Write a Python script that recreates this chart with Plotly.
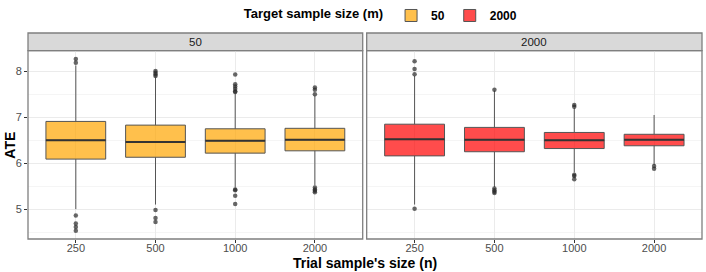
import plotly.graph_objects as go

# ---- data ----
categories = ["250", "500", "1000", "2000"]
panels = ["50", "2000"]

# target m = 50
q1_50 = [6.09, 6.13, 6.22, 6.27]
med_50 = [6.50, 6.46, 6.49, 6.51]
q3_50 = [6.91, 6.83, 6.75, 6.76]
lo_50 = [5.00, 5.10, 5.47, 5.52]
hi_50 = [8.13, 7.87, 7.52, 7.47]
out_x_50 = ["250", "250", "250", "250", "250", "250",
            "500", "500", "500", "500", "500", "500", "500",
            "1000", "1000", "1000", "1000", "1000", "1000", "1000", "1000", "1000", "1000",
            "2000", "2000", "2000", "2000", "2000", "2000", "2000"]
out_y_50 = [8.27, 8.19, 4.86, 4.69, 4.61, 4.53,
            8.01, 7.97, 7.93, 7.90, 4.98, 4.81, 4.72,
            7.93, 7.72, 7.67, 7.62, 7.57, 7.55, 5.43, 5.41, 5.29, 5.11,
            7.65, 7.60, 7.50, 5.47, 5.43, 5.40, 5.37]

# target m = 2000
q1_2000 = [6.16, 6.25, 6.32, 6.38]
med_2000 = [6.52, 6.51, 6.50, 6.51]
q3_2000 = [6.85, 6.78, 6.67, 6.63]
lo_2000 = [5.10, 5.48, 5.80, 5.96]
hi_2000 = [7.90, 7.58, 7.20, 7.05]
out_x_2000 = ["250", "250", "250", "250",
              "500", "500", "500", "500", "500",
              "1000", "1000", "1000", "1000", "1000",
              "2000", "2000"]
out_y_2000 = [8.22, 8.05, 7.94, 5.01,
              7.60, 5.45, 5.41, 5.38, 5.35,
              7.27, 7.23, 5.75, 5.72, 5.65,
              5.94, 5.88]

fills = {"50": "rgba(255,165,0,0.7)", "2000": "rgba(255,0,0,0.7)"}
box_line = "#555555"
font_fam = "Liberation Sans, Arial, sans-serif"

fig = go.Figure()

datasets = [
    ("50", "x", "y", q1_50, med_50, q3_50, lo_50, hi_50, out_x_50, out_y_50),
    ("2000", "x2", "y2", q1_2000, med_2000, q3_2000, lo_2000, hi_2000, out_x_2000, out_y_2000),
]

for name, xa, ya, q1, med, q3, lo, hi, ox, oy in datasets:
    fig.add_trace(go.Box(
        name="<b>" + name + "</b>", x=categories, q1=q1, median=med, q3=q3,
        lowerfence=lo, upperfence=hi,
        fillcolor=fills[name], line=dict(color=box_line, width=1),
        width=0.75, whiskerwidth=0, boxpoints=False, xaxis=xa, yaxis=ya,
        showlegend=True, hoverinfo="skip",
    ))
    # thicker median line
    fig.add_trace(go.Box(
        name=name, x=categories, q1=med, median=med, q3=med,
        lowerfence=med, upperfence=med,
        fillcolor="rgba(0,0,0,0)", line=dict(color="#333333", width=2),
        width=0.75, whiskerwidth=0, boxpoints=False, xaxis=xa, yaxis=ya,
        showlegend=False, hoverinfo="skip",
    ))
    fig.add_trace(go.Scatter(
        x=ox, y=oy, mode="markers", xaxis=xa, yaxis=ya,
        marker=dict(color="rgba(40,40,40,0.7)", size=4.5),
        showlegend=False, hoverinfo="skip",
    ))

d_top = 0.914
axis_common = dict(
    type="category", categoryorder="array", categoryarray=categories,
    range=[-0.6, 3.6], showgrid=True, gridcolor="#ebebeb", gridwidth=1,
    ticks="outside", ticklen=3, tickcolor="#333333", ticklabelstandoff=-4,
    tickfont=dict(size=11, color="#4d4d4d", family=font_fam),
    showline=False, zeroline=False, automargin=False,
)
y_common = dict(
    range=[4.35, 8.45], tickvals=[5, 6, 7, 8], showgrid=True,
    gridcolor="#ebebeb", gridwidth=1,
    minor=dict(tickvals=[4.5, 5.5, 6.5, 7.5], showgrid=True, gridcolor="#f5f5f5", gridwidth=0.8, ticks=""),
    ticklen=3, tickcolor="#333333",
    tickfont=dict(size=11, color="#4d4d4d", family=font_fam),
    zeroline=False, showline=False, domain=[0, d_top], automargin=False,
)

fig.update_layout(
    width=706, height=272,
    margin=dict(l=28, r=4, t=33, b=33, autoexpand=False),
    paper_bgcolor="white", plot_bgcolor="white",
    boxmode="overlay",
    font=dict(family=font_fam),
    xaxis=dict(domain=[0, 0.4966], anchor="y", **axis_common),
    xaxis2=dict(domain=[0.5025, 1.0], anchor="y2", **axis_common),
    yaxis=dict(anchor="x", ticks="outside", **y_common),
    yaxis2=dict(anchor="x2", matches="y", showticklabels=False, ticks="", **y_common),
    legend=dict(
        orientation="h", x=0.525, xanchor="center", y=1.085, yanchor="middle",
        title=dict(text="<b>Target sample size (m)</b>", font=dict(size=13, color="black")),
        font=dict(size=12, color="black", family=font_fam),
        itemwidth=30, tracegroupgap=0, bgcolor="rgba(0,0,0,0)",
    ),
)

shapes = []
annotations = []
for i, (name, xa, ya) in enumerate([("50", "x", "y"), ("2000", "x2", "y2")]):
    shapes.append(dict(type="rect", xref=f"{xa} domain", yref=f"{ya} domain",
                       x0=0, x1=1, y0=0, y1=1, line=dict(color="#7f7f7f", width=1.3),
                       fillcolor="rgba(0,0,0,0)", layer="above"))
    shapes.append(dict(type="rect", xref=f"{xa} domain", yref="paper",
                       x0=0, x1=1, y0=d_top, y1=1.0, line=dict(color="#7f7f7f", width=1.3),
                       fillcolor="#d9d9d9", layer="below"))
    annotations.append(dict(text=name, xref=f"{xa} domain", yref="paper",
                            x=0.5, y=(d_top + 1) / 2, showarrow=False,
                            xanchor="center", yanchor="middle",
                            font=dict(size=11.5, color="#1a1a1a", family=font_fam)))

annotations.append(dict(text="<b>ATE</b>", xref="paper", yref="paper", x=-0.027, y=d_top / 2,
                        textangle=-90, showarrow=False, xanchor="center", yanchor="middle",
                        font=dict(size=14, color="black", family=font_fam)))
annotations.append(dict(text="<b>Trial sample's size (n)</b>", xref="paper", yref="paper",
                        x=0.5, y=-0.068, showarrow=False, xanchor="center", yanchor="top",
                        font=dict(size=14, color="black", family=font_fam)))

fig.update_layout(shapes=shapes, annotations=annotations)
fig.write_html("out.html", config={"displayModeBar": False},
               post_script="document.body.style.margin='0';document.body.style.padding='0';")
